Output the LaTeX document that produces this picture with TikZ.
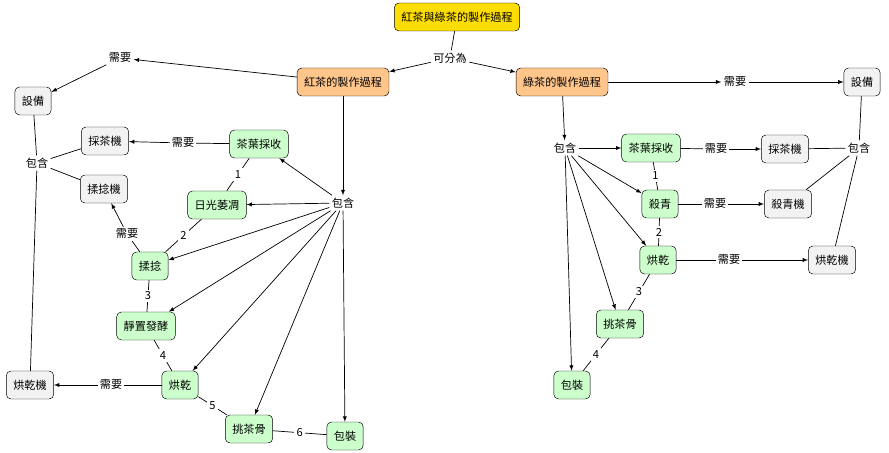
\documentclass[tikz,border=0pt]{standalone}
\usepackage{fontspec}
\setmainfont{Noto Sans CJK TC}
\usepackage{tikz}
\begin{document}
\begin{tikzpicture}[x=0.03cm,y=-0.03cm,
   font=\fontsize{9.5}{10}\selectfont,
   box/.style={draw,rounded corners=4pt,minimum height=0.84cm,inner xsep=6pt},
   rootbox/.style={box,fill=yellow!80!orange},
   proc/.style={box,fill=orange!45},
   stage/.style={box,fill=green!20},
   tool/.style={box,fill=blue!5!gray!10},
   lbl/.style={fill=white,inner sep=2pt},
   to/.style={-latex,semithick},
   ln/.style={semithick}]
\useasboundingbox (0,0) rectangle (889,453);
\node[rootbox] (T)  at (457,17) {紅茶與綠茶的製作過程};
\node[lbl]  (kf) at (450,58) {可分為};
\node[proc] (R)  at (343,82) {紅茶的製作過程};
\node[proc] (G)  at (562,82) {綠茶的製作過程};
% red tea
\node[lbl]  (rx) at (120,58) {需要};
\node[tool] (rE) at (33,101) {設備};
\node[lbl]  (rb) at (37,163) {包含};
\node[tool] (rM1) at (105,141) {採茶機};
\node[tool] (rM2) at (104,189) {揉捻機};
\node[tool] (rM3) at (30,385) {烘乾機};
\node[lbl]  (rc) at (343,203) {包含};
\node[stage] (r1) at (259,144) {茶葉採收};
\node[stage] (r2) at (217,205) {日光萎凋};
\node[stage] (r3) at (150,266) {揉捻};
\node[stage] (r4) at (146,326) {靜置發酵};
\node[stage] (r5) at (180,385) {烘乾};
\node[stage] (r6) at (249,429) {挑茶骨};
\node[stage] (r7) at (345,436) {包裝};
\draw[ln] (T) -- (kf);
\draw[to] (kf) -- (R);
\draw[to] (kf) -- (G);
\draw[to] (R) -- (rx);
\draw[to] (rx) -- (rE);
\draw[ln] (rE) -- (rb) (rb) -- (rM1) (rb) -- (rM2) (rb) -- (rM3);
\draw[to] (R) -- (rc);
\foreach \n in {1,...,7} \draw[to] (rc) -- (r\n);
\coordinate (rq1) at (183,143);
\coordinate (rq2) at (127,234);
\coordinate (rq3) at (111,385);
\draw[ln] (r1) -- (rq1);
\draw[to] (rq1) -- (rM1);
\draw[ln] (r3) -- (rq2);
\draw[to] (rq2) -- (rM2);
\draw[ln] (r5) -- (rq3);
\draw[to] (rq3) -- (rM3);
\node[lbl] at (rq1) {需要};
\node[lbl] at (rq2) {需要};
\node[lbl] at (rq3) {需要};
\draw[ln] (r1) -- node[lbl] {1} (r2);
\draw[ln] (r2) -- node[lbl] {2} (r3);
\draw[ln] (r3) -- node[lbl] {3} (r4);
\draw[ln] (r4) -- node[lbl] {4} (r5);
\draw[ln] (r5) -- node[lbl] {5} (r6);
\draw[ln] (r6) -- node[lbl] {6} (r7);
% green tea
\node[lbl]  (gx) at (735,82) {需要};
\node[tool] (gE) at (862,82) {設備};
\node[lbl]  (gb) at (859,148) {包含};
\node[lbl]  (gc) at (565,148) {包含};
\node[stage] (g1) at (651,148) {茶葉採收};
\node[stage] (g2) at (660,204) {殺青};
\node[stage] (g3) at (658,260) {烘乾};
\node[stage] (g4) at (620,324) {挑茶骨};
\node[stage] (g5) at (572,385) {包裝};
\node[tool] (gM1) at (785,149) {採茶機};
\node[tool] (gM2) at (788,204) {殺青機};
\node[tool] (gM3) at (832,260) {烘乾機};
\draw[to] (G) -- (gx);
\draw[to] (gx) -- (gE);
\draw[to] (G) -- (gc);
\foreach \n in {1,...,5} \draw[to] (gc) -- (g\n);
\coordinate (gq1) at (716,149);
\coordinate (gq2) at (715,204);
\coordinate (gq3) at (729,260);
\draw[ln] (g1) -- (gq1);
\draw[to] (gq1) -- (gM1);
\draw[ln] (g2) -- (gq2);
\draw[to] (gq2) -- (gM2);
\draw[ln] (g3) -- (gq3);
\draw[to] (gq3) -- (gM3);
\node[lbl] at (gq1) {需要};
\node[lbl] at (gq2) {需要};
\node[lbl] at (gq3) {需要};
\draw[ln] (gE) -- (gb) (gb) -- (gM1) (gb) -- (gM2) (gb) -- (gM3);
\draw[ln] (g1) -- node[lbl] {1} (g2);
\draw[ln] (g2) -- node[lbl] {2} (g3);
\draw[ln] (g3) -- node[lbl] {3} (g4);
\draw[ln] (g4) -- node[lbl] {4} (g5);
\end{tikzpicture}
\end{document}
